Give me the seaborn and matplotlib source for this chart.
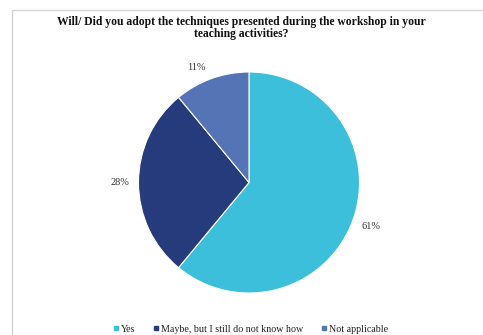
import matplotlib
matplotlib.use("Agg")
import matplotlib.pyplot as plt
from matplotlib.lines import Line2D
from matplotlib.patches import Rectangle
import numpy as np
import seaborn as sns

categories = ["Yes", "Maybe, but I still do not know how", "Not applicable"]
values = [61, 28, 11]
title = "Will/ Did you adopt the techniques presented during the workshop in your\nteaching activities?"

sns.set_theme(style="white")
plt.rcParams['font.family'] = ['Liberation Serif', 'DejaVu Serif']
colors = sns.color_palette(["#3BBFDA", "#253B7B", "#5574B5"])

W, H = 483, 335
fig = plt.figure(figsize=(W / 100, H / 100), dpi=100)
fig.patch.set_facecolor("white")

# border frame
fig.patches.append(Rectangle((12 / W, -0.1), 1.2, (H - 10) / H + 0.1, transform=fig.transFigure,
                             fill=False, edgecolor="#D3D3D3", linewidth=1.0))

cx, cy, r = 249, 182.5, 110.5
ax = fig.add_axes([(cx - r) / W, (H - cy - r) / H, 2 * r / W, 2 * r / H])
wedges, _, autotexts = ax.pie(values, colors=colors, startangle=90, counterclock=False,
                              autopct=lambda p: f"{p:.0f}%", pctdistance=1.17,
                              wedgeprops=dict(edgecolor="white", linewidth=0.8),
                              textprops=dict(fontsize=7.5, color="#333333"))
# small nudge of the smallest slice label (as in the original layout)
x, y = autotexts[2].get_position()
autotexts[2].set_position((x - 0.08, y - 0.06))
ax.set_xlim(-1, 1)
ax.set_ylim(-1, 1)
ax.set_aspect("equal")
ax.axis("off")

fig.text(0.5, 1 - 28 / H, title, ha="center", va="center", fontsize=8.4,
         fontweight="bold", linespacing=1.05, color="#111111")

handles = [Line2D([0], [0], marker="s", linestyle="", markersize=3.5, color=c) for c in colors]
fig.legend(handles, categories, loc="center", bbox_to_anchor=(0.5 + 9 / W, 1 - 329 / H), ncol=3,
           frameon=False, fontsize=7.2, handlelength=0.6, handletextpad=0.25,
           columnspacing=1.7, labelcolor="#222222")

fig.savefig("out.png", dpi=100)
